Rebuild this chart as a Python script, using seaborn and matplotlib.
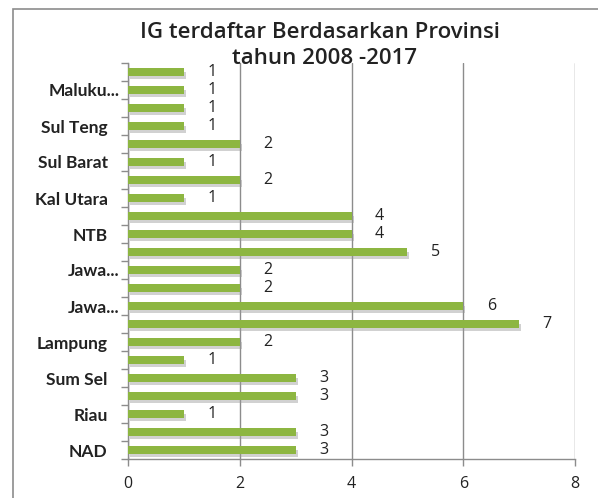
import matplotlib
matplotlib.use("Agg")
import matplotlib.pyplot as plt
import matplotlib.patheffects as pe
import matplotlib.transforms as mtransforms
from matplotlib.ticker import FixedLocator
import seaborn as sns
import pandas as pd

# Data, top row to bottom row
provinces = ["Papua", "Maluku Utara", "Sul Sel", "Sul Teng", "Sul Tenggara", "Sul Barat",
             "Kal Barat", "Kal Utara", "NTT", "NTB", "Bali", "Jawa Timur",
             "DIY", "Jawa Tengah", "Jawa Barat", "Lampung", "Bengkulu", "Sum Sel",
             "Sumbar", "Riau", "Sumut", "NAD"]
display_labels = ["", "Maluku...", "", "Sul Teng", "", "Sul Barat",
                  "", "Kal Utara", "", "NTB", "", "Jawa...",
                  "", "Jawa...", "", "Lampung", "", "Sum Sel",
                  "", "Riau", "", "NAD"]
counts = [1, 1, 1, 1, 2, 1, 2, 1, 4, 4, 5, 2, 2, 6, 7, 2, 1, 3, 3, 1, 3, 3]
x_ticks = [0, 2, 4, 6, 8]
title_lines = ["IG terdaftar Berdasarkan Provinsi", "tahun 2008 -2017"]

df = pd.DataFrame({"prov": provinces, "n": counts})

sns.set_style("white")
plt.rcParams["font.family"] = ["Lato", "DejaVu Sans"]

fig = plt.figure(figsize=(5.98, 4.98), dpi=100)
ax = fig.add_axes([128/598, 1-459/498, (575-128)/598, (459-63)/498])

sns.barplot(data=df, y="prov", x="n", order=provinces, orient="h",
            color="#8db641", width=0.42, saturation=1, linewidth=0, ax=ax, zorder=3)

for p in ax.patches:
    p.set_path_effects([pe.SimplePatchShadow(offset=(1.5, -2.5), shadow_rgbFace="#999999", alpha=0.45),
                        pe.Normal()])

for c in ax.containers:
    ax.bar_label(c, labels=[str(v) for v in counts], padding=17, fontsize=11.5,
                 color="#222222", family=["Open Sans", "DejaVu Sans"])

ax.set_xlim(0, 8)
ax.set_ylim(len(provinces) - 0.5, -0.5)
ax.set_xticks(x_ticks)
ax.set_xticklabels([str(t) for t in x_ticks], fontsize=11.5, color="#222222",
                   family=["Open Sans", "DejaVu Sans"])
ax.set_yticks(range(len(provinces)))
ax.set_yticklabels(display_labels, fontsize=12.5, fontweight="bold", color="#222222")
ax.yaxis.set_minor_locator(FixedLocator([i - 0.5 for i in range(len(provinces) + 1)]))
ax.tick_params(axis="y", which="major", length=0, pad=6)
ax.tick_params(axis="y", which="minor", length=5, width=1, color="#8c8c8c", direction="out", left=True)
ax.tick_params(axis="x", which="major", length=5, width=1, color="#8c8c8c", direction="out",
               bottom=True, pad=7)
ax.set_xlabel("")
ax.set_ylabel("")

shift = mtransforms.ScaledTranslation(-12/100, 0, fig.dpi_scale_trans)
for lbl in ax.get_yticklabels():
    if not lbl.get_text().endswith("..."):
        lbl.set_transform(lbl.get_transform() + shift)

ax.xaxis.grid(True, color="#8c8c8c", linewidth=1, zorder=0)
ax.set_axisbelow(True)
for s in ["top", "right"]:
    ax.spines[s].set_visible(False)
for s in ["left", "bottom"]:
    ax.spines[s].set_color("#8c8c8c")
    ax.spines[s].set_linewidth(1)

fig.text(320/598, 1-32/498, title_lines[0], ha="center", va="center", fontsize=16,
         color="#222222", family=["Open Sans", "DejaVu Sans"], fontweight="semibold")
fig.text(325/598, 1-59/498, title_lines[1], ha="center", va="center", fontsize=16,
         color="#222222", family=["Open Sans", "DejaVu Sans"], fontweight="semibold")

# outer chart border (left and top edges visible)
fig.patches.append(plt.Rectangle((13/598, -0.1), 1.2, 1 - 9/498 + 0.1, transform=fig.transFigure,
                                 fill=False, edgecolor="#8c8c8c", linewidth=1.2, figure=fig))

fig.savefig("out.png", dpi=100)
